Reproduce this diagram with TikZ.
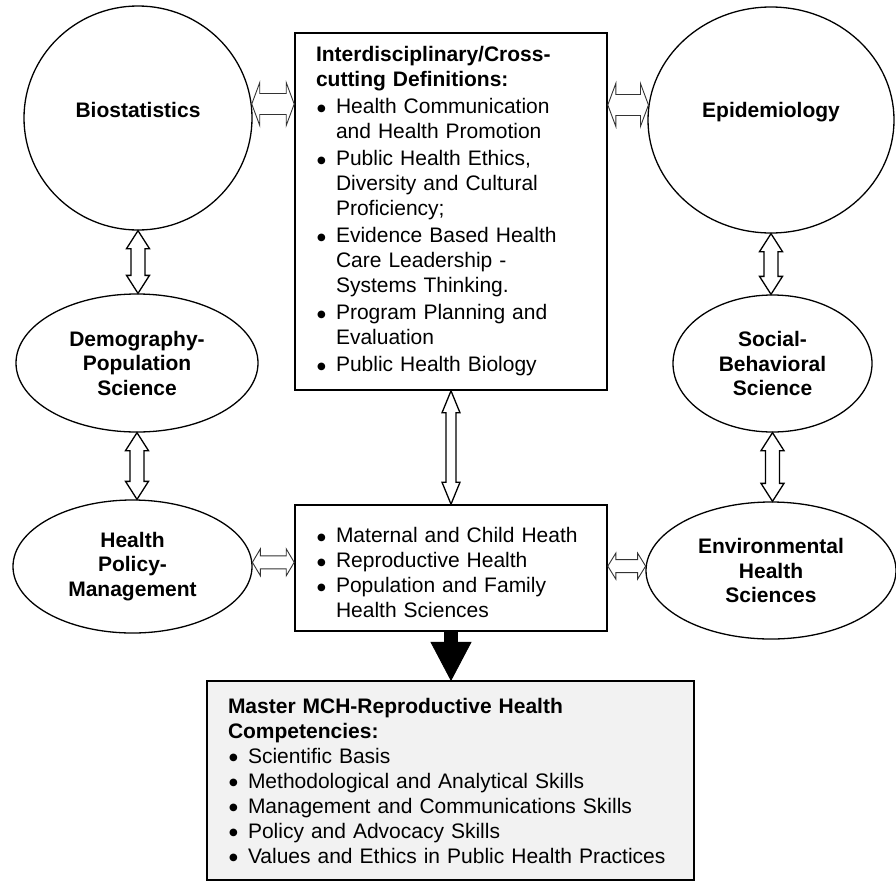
\documentclass[tikz,border=0pt]{standalone}
\usepackage{fontspec}
\setmainfont{Liberation Sans}
\newfontfamily\bulletfont{DejaVu Sans}
\usetikzlibrary{shapes.geometric,calc}
\newcommand{\bulletitem}[1]{\par\hangindent=20pt\hangafter=1\noindent\makebox[20pt][l]{\hspace{1pt}\raisebox{2.8pt}{\bulletfont\fontsize{10}{10}\selectfont ●}}#1\par}
\begin{document}
\begin{tikzpicture}[x=1pt,y=-1pt,
  ell/.style={ellipse, draw, line width=1.3pt, inner sep=0pt, align=center,
    font=\fontsize{21}{24.5}\selectfont\bfseries},
  box/.style={rectangle, draw, line width=1.6pt, inner sep=0pt, align=left,
    font=\fontsize{21}{25}\selectfont},
  hdbl/.style n args={3}{fill=white, draw=black!80, line width=0.9pt,
    to path={let \p1=(\tikztostart),\p2=(\tikztotarget) in
      (\x1,\y1) -- (\x1+#1,\y1+#2) -- (\x1+#1,\y1+#3) -- (\x2-#1,\y1+#3) -- (\x2-#1,\y1+#2)
      -- (\x2,\y1) -- (\x2-#1,\y1-#2) -- (\x2-#1,\y1-#3) -- (\x1+#1,\y1-#3) -- (\x1+#1,\y1-#2) -- cycle}},
  vdbl/.style n args={3}{fill=white, draw=black, line width=1.3pt,
    to path={let \p1=(\tikztostart),\p2=(\tikztotarget) in
      (\x1,\y1) -- (\x1+#2,\y1-#1) -- (\x1+#3,\y1-#1) -- (\x1+#3,\y2+#1) -- (\x1+#2,\y2+#1)
      -- (\x1,\y2) -- (\x1-#2,\y2+#1) -- (\x1-#3,\y2+#1) -- (\x1-#3,\y1-#1) -- (\x1-#2,\y1-#1) -- cycle}},
  bkarrow/.style n args={3}{fill=black, draw=black, line width=0.8pt,
    to path={let \p1=(\tikztostart),\p2=(\tikztotarget) in
      (\x1-#3,\y1) -- (\x1-#3,\y2+#1) -- (\x1-#2,\y2+#1) -- (\x1,\y2) -- (\x1+#2,\y2+#1)
      -- (\x1+#3,\y2+#1) -- (\x1+#3,\y1) -- cycle}}
]
\useasboundingbox (0,0) rectangle (896,881);
\fill[white] (0,0) rectangle (896,881);

% ellipses
\node[ell, minimum width=228pt, minimum height=224pt] (bio) at (138,118)
  {\raisebox{8pt}[\height][\depth]{Biostatistics}};
\node[ell, minimum width=246pt, minimum height=226pt] (epi) at (771,120)
  {\raisebox{8pt}[\height][\depth]{Epidemiology}};
\node[ell, minimum width=242pt, minimum height=138pt] (demo) at (137,363)
  {Demography-\\Population\\Science};
\node[ell, minimum width=199pt, minimum height=137pt] (soc) at (772.5,363.5)
  {Social-\\Behavioral\\Science};
\node[ell, minimum width=239pt, minimum height=133pt] (hpm) at (132.5,566.5)
  {Health\\Policy-\\Management};
\node[ell, minimum width=250pt, minimum height=137pt] (env) at (771,570.5)
  {Environmental\\Health\\Sciences};

% boxes
\node[box, minimum width=312pt, minimum height=357pt, text width=270pt] (top) at (451,211.5)
  {\setlength\parskip{2pt}\noindent\textbf{Interdisciplinary/Cross-\newline cutting Definitions:}
   \bulletitem{Health Communication\newline and Health Promotion}
   \bulletitem{Public Health Ethics,\newline Diversity and Cultural\newline Proficiency;}
   \bulletitem{Evidence Based Health\newline Care Leadership -\newline Systems Thinking.}
   \bulletitem{Program Planning and\newline Evaluation}
   \bulletitem{Public Health Biology}};
\node[box, minimum width=312pt, minimum height=126pt, text width=270pt] (mid) at (451,568)
  {\setlength\parskip{0pt}\bulletitem{Maternal and Child Heath}
   \bulletitem{Reproductive Health}
   \bulletitem{Population and Family\newline Health Sciences}};
\node[box, fill=black!5, minimum width=487pt, minimum height=199pt, text width=445pt] (btm) at (450.5,780.5)
  {\setlength\parskip{0pt}\noindent\textbf{Master MCH-Reproductive Health\newline Competencies:}
   \bulletitem{Scientific Basis}
   \bulletitem{Methodological and Analytical Skills}
   \bulletitem{Management and Communications Skills}
   \bulletitem{Policy and Advocacy Skills}
   \bulletitem{Values and Ethics in Public Health Practices}};

% horizontal double arrows
\draw[hdbl={8pt}{21.5pt}{10.5pt}] (bio.7) to (top.west);
\draw[hdbl={8pt}{21.5pt}{10.5pt}] (top.east |- epi.173) to (epi.173);
\draw[hdbl={8pt}{13.5pt}{6.5pt}] (hpm.2) to (mid.west);
\draw[hdbl={8pt}{13pt}{6.5pt}] (mid.east |- env.178) to (env.178);

% vertical double arrows
\draw[vdbl={18pt}{11.5pt}{7pt}] (bio.south) to (demo.north);
\draw[vdbl={18pt}{11.5pt}{7pt}] (demo.south) to (hpm.north);
\draw[vdbl={18pt}{11.5pt}{7pt}] (epi.south) to (soc.north);
\draw[vdbl={18pt}{11.5pt}{7pt}] (soc.south) to (env.north);
\draw[vdbl={22pt}{9pt}{5pt}] (top.south) to (mid.north);

% block arrow
\draw[bkarrow={38pt}{20pt}{6.5pt}] (mid.south) to (btm.north);
\end{tikzpicture}
\end{document}
